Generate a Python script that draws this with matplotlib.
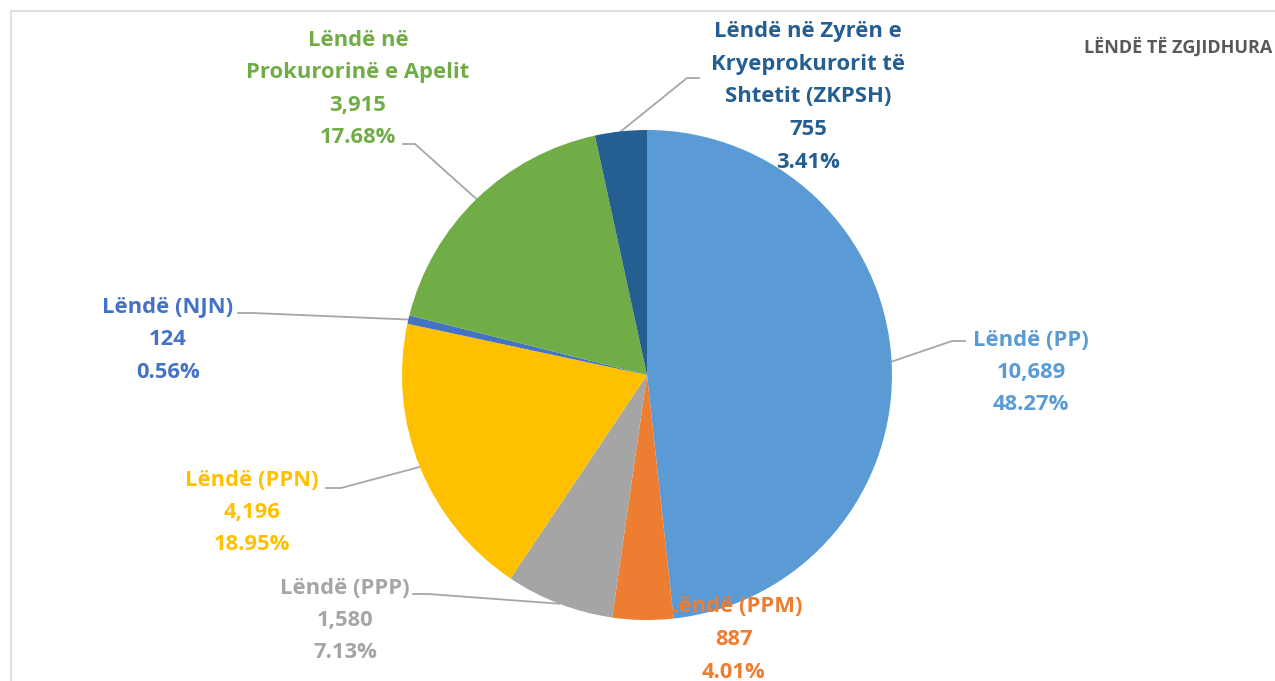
import numpy as np
import matplotlib
matplotlib.use("Agg")
import matplotlib.pyplot as plt
from matplotlib.patches import Rectangle

# ---- data ----
categories = ["Lëndë (PP)", "Lëndë (PPM)", "Lëndë (PPP)", "Lëndë (PPN)",
              "Lëndë (NJN)", "Lëndë në\nProkurorinë e Apelit",
              "Lëndë në Zyrën e\nKryeprokurorit të\nShtetit (ZKPSH)"]
values = [10689, 887, 1580, 4196, 124, 3915, 755]
percents = ["48.27%", "4.01%", "7.13%", "18.95%", "0.56%", "17.68%", "3.41%"]
colors = ["#5B9BD5", "#ED7D31", "#A5A5A5", "#FFC000", "#4472C4", "#70AD47", "#255E91"]
title = "LËNDË TË ZGJIDHURA"

W, H = 1275, 681
fig = plt.figure(figsize=(W / 100, H / 100), dpi=100)
ax = fig.add_axes([0, 0, 1, 1])

FONT = ["Open Sans", "DejaVu Sans"]

cx, cy, r = 647, H - 375, 245

wedges, _ = ax.pie(values, colors=colors, startangle=90, counterclock=False,
                   center=(cx, cy), radius=r, frame=True,
                   wedgeprops=dict(linewidth=0))
for i, w in enumerate(wedges):
    # PP slice sits below the labels (PPM label overlaps it), others above
    w.set_zorder(0.5 if i == 0 else 3)
ax.set_xlim(0, W)
ax.set_ylim(0, H)
ax.set_aspect("equal")
ax.axis("off")

# border
ax.add_patch(Rectangle((11, -5), W + 20, H - 11 + 5, fill=False,
                       edgecolor="#D9D9D9", linewidth=1.2, zorder=0))

label_pos = [  # (x, y_img) center of first line
    (1031, 340), (734, 607), (345, 588), (252, 480),
    (168, 307), (358, 40), (808, 32),
]
line_h = 32.5
for i, (lab, v, p) in enumerate(zip(categories, values, percents)):
    lines = lab.split("\n") + [f"{v:,}", p]
    x, yi = label_pos[i]
    for k, ln in enumerate(lines):
        ax.text(x, H - (yi + k * line_h), ln, ha="center", va="center",
                fontsize=15.8, fontweight="bold", color=colors[i],
                family=FONT, zorder=1)

# leader lines: from label anchor to wedge edge midpoint
anchors = {
    0: [(965, 341), (952, 341)],
    2: [(413, 594), (428, 594)],
    3: [(326, 488), (341, 488)],
    4: [(238, 313), (253, 313)],
    5: [(403, 144), (415, 144)],
    6: [(699, 78), (687, 78)],
}
total = sum(values)
cum = 0
mids = []
for v in values:
    mids.append(90 - 360 * (cum + v / 2) / total)
    cum += v
for i, pts in anchors.items():
    a = np.deg2rad(mids[i])
    ex, ey = cx + r * np.cos(a), cy + r * np.sin(a)
    xs = [p[0] for p in pts] + [ex]
    ys = [H - p[1] for p in pts] + [ey]
    ax.plot(xs, ys, color="#A6A6A6", linewidth=1.3, zorder=2)

ax.text(1272, H - 47, title, ha="right", va="center", fontsize=13,
        fontweight="bold", color="#595959", family=FONT, zorder=4)

fig.savefig("out.png", dpi=100)
